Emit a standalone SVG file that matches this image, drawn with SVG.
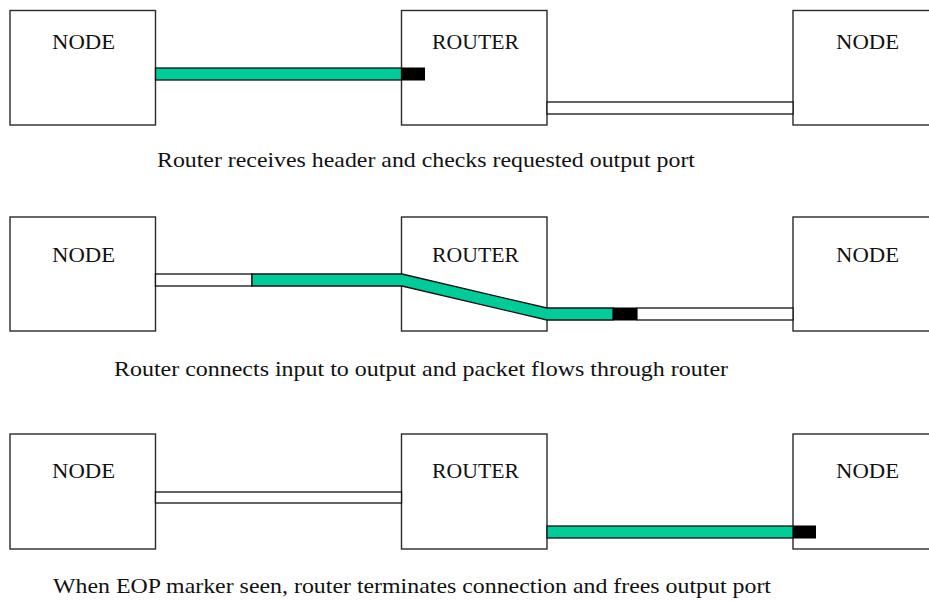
<svg xmlns="http://www.w3.org/2000/svg" width="929" height="601" viewBox="0 0 929 601">
<style>
.box{fill:#fff;stroke:#2a2a2a;stroke-width:1.4}
.lbl{font-family:"Liberation Serif",serif;font-size:22px;fill:#111}
.cap{font-family:"Liberation Serif",serif;font-size:21px;fill:#111}
.g{fill:#00CC99;stroke:#111;stroke-width:1.3}
.w{fill:#fff;stroke:#111;stroke-width:1.3}
.k{fill:#000}
</style>
<rect width="929" height="601" fill="#fff"/>
<g id="row1">
<g id="node1a"><rect class="box" x="10" y="10.5" width="145.5" height="114.5"/><text class="lbl" x="52" y="49" textLength="63" lengthAdjust="spacingAndGlyphs">NODE</text></g>
<g id="router1"><rect class="box" x="401.5" y="10.5" width="145.5" height="114.5"/><text class="lbl" x="432" y="49" textLength="87" lengthAdjust="spacingAndGlyphs">ROUTER</text></g>
<g id="node1b"><rect class="box" x="793" y="10.5" width="150" height="114.5"/><text class="lbl" x="836" y="49" textLength="63" lengthAdjust="spacingAndGlyphs">NODE</text></g>
</g>
<g id="row2">
<g id="node2a"><rect class="box" x="10" y="217" width="145.5" height="114"/><text class="lbl" x="52" y="262" textLength="63" lengthAdjust="spacingAndGlyphs">NODE</text></g>
<g id="router2"><rect class="box" x="401.5" y="217" width="145.5" height="114"/><text class="lbl" x="432" y="262" textLength="87" lengthAdjust="spacingAndGlyphs">ROUTER</text></g>
<g id="node2b"><rect class="box" x="793" y="217" width="150" height="114"/><text class="lbl" x="836" y="262" textLength="63" lengthAdjust="spacingAndGlyphs">NODE</text></g>
</g>
<g id="row3">
<g id="node3a"><rect class="box" x="10" y="434" width="145.5" height="115"/><text class="lbl" x="52" y="478" textLength="63" lengthAdjust="spacingAndGlyphs">NODE</text></g>
<g id="router3"><rect class="box" x="401.5" y="434" width="145.5" height="115"/><text class="lbl" x="432" y="478" textLength="87" lengthAdjust="spacingAndGlyphs">ROUTER</text></g>
<g id="node3b"><rect class="box" x="793" y="434" width="150" height="115"/><text class="lbl" x="836" y="478" textLength="63" lengthAdjust="spacingAndGlyphs">NODE</text></g>
</g>
<g id="connectors">
<rect class="g" x="155.5" y="68" width="246" height="12"/>
<rect class="k" x="401.5" y="67.5" width="23.5" height="13"/>
<rect class="w" x="547" y="102" width="246" height="12"/>
<rect class="w" x="155.5" y="274" width="96.5" height="12"/>
<polygon class="g" points="252,274 402,274 547,308 613,308 613,320 547,320 402,286 252,286"/>
<rect class="w" x="637" y="308" width="156" height="12"/>
<rect class="k" x="613" y="307.5" width="24" height="13"/>
<rect class="w" x="155.5" y="492" width="246" height="11"/>
<rect class="g" x="547" y="526" width="246" height="12"/>
<rect class="k" x="793" y="525.5" width="23" height="13"/>
</g>
<g id="captions">
<text class="cap" x="157" y="167" textLength="538" lengthAdjust="spacingAndGlyphs">Router receives header and checks requested output port</text>
<text class="cap" x="114" y="376" textLength="614" lengthAdjust="spacingAndGlyphs">Router connects input to output and packet flows through router</text>
<text class="cap" x="53" y="593" textLength="718" lengthAdjust="spacingAndGlyphs">When EOP marker seen, router terminates connection and frees output port</text>
</g>
</svg>
